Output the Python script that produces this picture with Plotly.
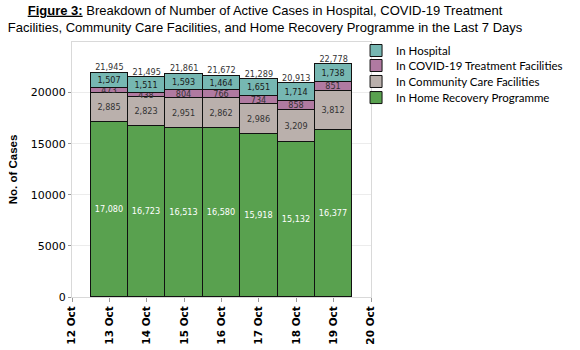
import plotly.graph_objects as go

dates = ["2021-10-13", "2021-10-14", "2021-10-15", "2021-10-16",
         "2021-10-17", "2021-10-18", "2021-10-19"]
home_recovery = [17080, 16723, 16513, 16580, 15918, 15132, 16377]
community_care = [2885, 2823, 2951, 2862, 2986, 3209, 3812]
treatment_fac = [473, 438, 804, 766, 734, 858, 851]
hospital = [1507, 1511, 1593, 1464, 1651, 1714, 1738]
totals = [21945, 21495, 21861, 21672, 21289, 20913, 22778]

series = [
    ("In Home Recovery Programme", home_recovery, "#59a14f", "white", "legend4"),
    ("In Community Care Facilities", community_care, "#bab0ac", "#333333", "legend3"),
    ("In COVID-19 Treatment Facilities", treatment_fac, "#b07aa1", "#333333", "legend2"),
    ("In Hospital", hospital, "#76b7b2", "#1a1a1a", "legend"),
]

DAY = 86400000
label_font = "DejaVu Sans Condensed, Liberation Sans, sans-serif"

fig = go.Figure()
for name, vals, color, tcol, leg in series:
    fig.add_trace(go.Bar(
        x=dates, y=vals, name=name, width=DAY, legend=leg,
        marker=dict(color=color, line=dict(color="#111111", width=1)),
        text=[f"{v:,}" for v in vals],
        textposition="inside", insidetextanchor="middle",
        constraintext="none",
        textfont=dict(family=label_font, size=9, color=tcol),
        hoverinfo="skip",
    ))

fig.add_trace(go.Scatter(
    x=dates, y=totals, mode="text",
    text=[f"{v:,}" for v in totals], textposition="top center",
    textfont=dict(family=label_font, size=9, color="#333333"),
    showlegend=False, hoverinfo="skip",
))

leg_common = dict(
    x=0.95, xanchor="left", yanchor="top",
    font=dict(family="Lato", size=11.5, color="black"),
    bgcolor="rgba(0,0,0,0)",
)

fig.update_layout(
    width=580, height=350,
    barmode="stack", bargap=0,
    paper_bgcolor="white", plot_bgcolor="white",
    margin=dict(l=72, r=207, t=42, b=53),
    title=dict(
        text="<b><u>Figure 3:</u></b> Breakdown of Number of Active Cases in Hospital, COVID-19 Treatment<br>"
             "Facilities, Community Care Facilities, and Home Recovery Programme in the Last 7 Days",
        x=0.457, xanchor="center", y=0.958, yanchor="top",
        font=dict(family="Liberation Sans", size=13, color="black"),
    ),
    legend=dict(y=1.0235, **leg_common),
    legend2=dict(y=0.9647, **leg_common),
    legend3=dict(y=0.902, **leg_common),
    legend4=dict(y=0.839, **leg_common),
    showlegend=True,
)

fig.update_xaxes(
    type="date", range=["2021-10-12", "2021-10-20"],
    dtick=DAY, tick0="2021-10-12", tickformat="%d %b",
    tickangle=-90, ticks="outside", ticklen=4, tickcolor="#999999",
    tickfont=dict(family="DejaVu Sans", size=10.5, color="black", weight="bold"),
    showgrid=False, showline=True, linecolor="#d9d9d9", mirror=True,
    automargin=False,
)
fig.update_yaxes(
    range=[0, 24950], dtick=5000, tickformat="d",
    ticks="outside", ticklen=3, tickcolor="#999999",
    tickfont=dict(family="DejaVu Sans", size=11, color="black"),
    showgrid=True, gridcolor="#ececec",
    showline=True, linecolor="#d9d9d9", mirror=True,
    zeroline=False, automargin=False,
    title=dict(text="<b>No. of Cases</b>", standoff=10,
               font=dict(family="Liberation Sans", size=11.5, color="black")),
)

fig.write_html("out.html")
